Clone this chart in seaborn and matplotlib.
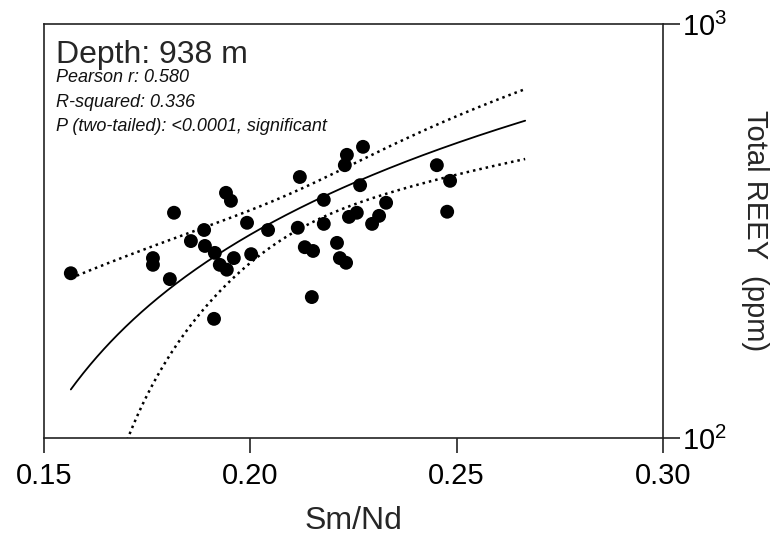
import numpy as np
import pandas as pd
import matplotlib
matplotlib.use("Agg")
import matplotlib.pyplot as plt
import seaborn as sns

# ---- data ----
sm_nd = [0.1565, 0.1764, 0.1764, 0.1815, 0.1805, 0.1856, 0.1888, 0.1890, 0.1914, 0.1912,
         0.1926, 0.1943, 0.1941, 0.1953, 0.1960, 0.1992, 0.2002, 0.2043, 0.2120, 0.2115,
         0.2132, 0.2152, 0.2149, 0.2178, 0.2178, 0.2210, 0.2217, 0.2232, 0.2229, 0.2234,
         0.2273, 0.2266, 0.2239, 0.2258, 0.2295, 0.2312, 0.2329, 0.2452, 0.2484, 0.2477]
total_reey = [250, 272, 262, 350, 242, 299, 318, 291, 280, 194,
              262, 255, 391, 374, 272, 331, 278, 318, 427, 322,
              289, 283, 219, 376, 329, 296, 272, 265, 456, 483,
              505, 408, 342, 350, 329, 344, 370, 456, 418, 352]

# fitted straight line and its 95% confidence band
fit_x_range = [0.1565, 0.2666]
fit_intercept = -513.0
fit_slope = 4115.0
band_x_mean = 0.2116
band_sxx = 0.01687
band_n = 40
band_t_resid_sd = 248.0   # t(0.975, n-2) * residual SD

x_ticks = [0.15, 0.20, 0.25, 0.30]
x_tick_labels = ["0.15", "0.20", "0.25", "0.30"]
y_ticks = [100, 1000]
y_tick_labels = [r"$\mathregular{10^{2}}$", r"$\mathregular{10^{3}}$"]
title_text = "Depth: 938 m"
stats_lines = ["Pearson r: 0.580", "R-squared: 0.336", "P (two-tailed): <0.0001, significant"]

# ---- fit curve and band ----
xg = np.linspace(fit_x_range[0], fit_x_range[1], 400)
yg = fit_intercept + fit_slope * xg
half = band_t_resid_sd * np.sqrt(1 / band_n + (xg - band_x_mean) ** 2 / band_sxx)
fit_df = pd.DataFrame({"x": xg, "fit": yg, "upper": yg + half, "lower": yg - half})
pts = pd.DataFrame({"Sm/Nd": sm_nd, "Total REEY": total_reey})

sns.set_style("ticks")
plt.rcParams["font.family"] = ["Liberation Sans", "DejaVu Sans"]
plt.rcParams["mathtext.default"] = "regular"

fig = plt.figure(figsize=(7.71, 5.40), dpi=100)
ax = fig.add_axes([44 / 771, 1 - 438 / 540, (663 - 44) / 771, (438 - 24) / 540])

lower_ok = fit_df[fit_df["lower"] > 60]
dot = (0, (1, 1.6))
sns.lineplot(data=fit_df, x="x", y="fit", ax=ax, color="black", lw=1.3, estimator=None, sort=False)
sns.lineplot(data=fit_df, x="x", y="upper", ax=ax, color="black", lw=1.8,
             linestyle=dot, estimator=None, sort=False)
sns.lineplot(data=lower_ok, x="x", y="lower", ax=ax, color="black", lw=1.8,
             linestyle=dot, estimator=None, sort=False)
sns.scatterplot(data=pts, x="Sm/Nd", y="Total REEY", ax=ax, color="black", s=100,
                edgecolor="none", zorder=5)

ax.set_yscale("log")
ax.set_xlim(0.15, 0.30)
ax.set_ylim(100, 1000)
ax.set_xticks(x_ticks)
ax.set_xticklabels(x_tick_labels)
ax.set_yticks(y_ticks)
ax.set_yticklabels(y_tick_labels)
ax.yaxis.set_minor_locator(matplotlib.ticker.NullLocator())
ax.xaxis.set_minor_locator(matplotlib.ticker.NullLocator())
ax.yaxis.tick_right()
ax.yaxis.set_label_position("right")

for sp in ax.spines.values():
    sp.set_visible(True)
    sp.set_linewidth(1.2)
    sp.set_color("#222222")

ax.tick_params(axis="x", direction="out", length=11, width=1.2, labelsize=21, pad=6, colors="#222222")
ax.tick_params(axis="y", direction="out", length=12, width=1.2, labelsize=21, pad=2, colors="#222222",
               left=False, right=True, labelleft=False, labelright=True)
for lbl in ax.get_xticklabels() + ax.get_yticklabels():
    lbl.set_color("black")

ax.set_xlabel("Sm/Nd", fontsize=23, labelpad=12)
ax.set_ylabel("Total REEY  (ppm)", fontsize=21, rotation=270, labelpad=30)

ax.text(0.019, 0.906, title_text, transform=ax.transAxes, fontsize=23, va="baseline", ha="left")
for i, line in enumerate(stats_lines):
    ax.text(0.019, 0.860 - i * 0.0595, line, transform=ax.transAxes, fontsize=13,
            style="italic", va="baseline", ha="left", color="#111111")

fig.savefig("out.png", dpi=100)
